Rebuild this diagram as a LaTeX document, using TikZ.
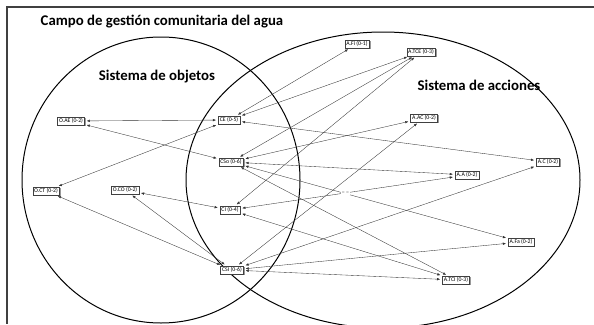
\documentclass[tikz,border=0pt]{standalone}
\usepackage{fontspec}
\setmainfont{Carlito}
\usetikzlibrary{arrows.meta,shadows}

\begin{document}
\begin{tikzpicture}[
  x=1pt, y=-1pt,
  box/.style={
    draw=black!75, fill=white, line width=0.4pt, inner sep=1.5pt,
    font=\fontsize{5.8}{7}\selectfont,
    drop shadow={shadow xshift=1.4pt, shadow yshift=-1.4pt,
      fill=black!40, opacity=1}
  },
  link/.style={
    {Latex[length=3.2pt,width=2.5pt]}-{Latex[length=3.2pt,width=2.5pt]},
    draw=black!80, line width=0.35pt, shorten <=2pt, shorten >=2pt
  },
  heading/.style={font=\fontsize{14.8}{17}\selectfont\bfseries},
  ]
  \useasboundingbox (0,0) rectangle (594,324);
  \draw[line width=1.6pt, black!75] (594,7) -- (7,7) -- (7,324);

  % the two systems
  \draw[line width=1pt] (161,180) ellipse [x radius=139pt, y radius=143pt];
  \draw[line width=1pt] (383,180) ellipse [x radius=197pt, y radius=148pt];

  \node[heading] (field) at (162,22) {Campo de gestión comunitaria del agua};
  \node[heading] (objects) at (157,77) {Sistema de objetos};
  \node[heading] (actions) at (479,85) {Sistema de acciones};

  % objects
  \node[box] (oae) at (71,121) {O.AE (0-2)};
  \node[box] (oct) at (46,191) {O.CT (0-2)};
  \node[box] (oco) at (125,190) {O.CO (0-2)};
  % shared
  \node[box] (ce) at (229,120) {CE (0-5)};
  \node[box] (cso) at (231,162) {CSo (0-6)};
  \node[box] (ci) at (230,210) {CI (0-4)};
  \node[box] (csi) at (232,270) {CSI (0-6)};
  % actions
  \node[box] (afi) at (357,44) {A.Fi (0-1)};
  \node[box] (atce) at (421,52) {A.TCE (0-3)};
  \node[box] (aac) at (424,118) {A.AC (0-2)};
  \node[box] (ac) at (548,162) {A.C (0-2)};
  \node[box] (aa) at (467,175) {A.A (0-2)};
  \node[box] (afa) at (521,242) {A.Fa (0-2)};
  \node[box] (atci) at (456,280) {A.TCI (0-3)};

  \foreach \from/\to in {oae/ce, oae/cso, oct/ce, oct/csi, oco/ci, oco/csi,
      ce/afi, ce/atce, ce/ac, cso/atce, cso/aac, cso/aa, cso/afa, cso/atci,
      ci/atce, ci/atci, csi/aac, csi/ac, csi/afa, csi/atci}
    \draw[link] (\from) -- (\to);
  \draw[link] (ci) -- node[pos=0.49, fill=white, inner sep=0.8pt,
      text=black!45, font=\fontsize{5.8}{7}\selectfont] (gap) {= =} (aa);
\end{tikzpicture}
\end{document}
